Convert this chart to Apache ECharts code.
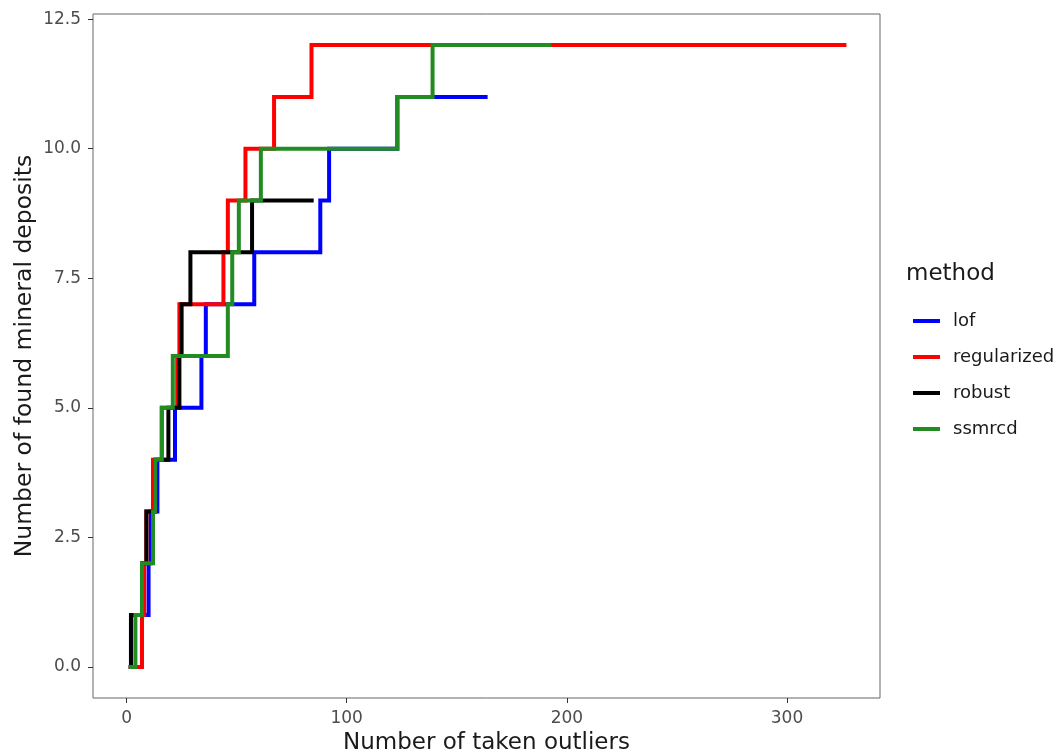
<!DOCTYPE html>
<html>
<head>
<meta charset="utf-8">
<title>Found mineral deposits by method</title>
<script src="https://cdn.jsdelivr.net/npm/echarts@6/dist/echarts.min.js"></script>
<style>
  html, body { margin: 0; padding: 0; background: #fff; }
  #chart { width: 1061px; height: 756px; }
</style>
</head>
<body>
<div id="chart"></div>
<script>
// Method names (legend order)
const methods = ['lof', 'regularized', 'robust', 'ssmrcd'];

// Number of taken outliers at which each successive deposit (1, 2, 3, ...) is found
const lofJumps         = [2, 10, 11, 14, 22, 34, 36, 58, 88, 92, 123];
const regularizedJumps = [7, 8, 9, 12, 16, 23, 24, 44, 46, 54, 67, 84];
const robustJumps      = [2, 7, 9, 13, 19, 24, 25, 29, 57];
const ssmrcdJumps      = [4, 7, 12, 13, 16, 21, 46, 48, 51, 61, 123, 139];

// Last number of taken outliers evaluated for each method
const lofEnd = 164;
const regularizedEnd = 327;
const robustEnd = 85;
const ssmrcdEnd = 193;

// Axis ticks
const xTicks = [0, 100, 200, 300];
const yTicks = [0, 2.5, 5, 7.5, 10, 12.5];

const colors = ['#0000FF', '#FF0000', '#000000', '#228B22'];
const jumpsByMethod = [lofJumps, regularizedJumps, robustJumps, ssmrcdJumps];
const endsByMethod = [lofEnd, regularizedEnd, robustEnd, ssmrcdEnd];

// Cumulative count curve: starts at 0 with the first outlier, steps up by one at each jump
function curve(jumps, end) {
  const pts = [[1, 0]];
  jumps.forEach((x, i) => pts.push([x, i + 1]));
  pts.push([end, jumps.length]);
  return pts;
}

const font = 'DejaVu Sans';
const chart = echarts.init(document.getElementById('chart'), null, { renderer: 'canvas' });

const series = methods.map((m, i) => ({
  name: m,
  type: 'line',
  step: 'end',
  data: curve(jumpsByMethod[i], endsByMethod[i]),
  symbol: 'none',
  color: colors[i],
  lineStyle: { color: colors[i], width: 4, cap: 'butt', join: 'miter' },
  animation: false,
  z: 2 + i
}));

chart.setOption({
  animation: false,
  backgroundColor: '#ffffff',
  grid: {
    left: 93, right: 181, top: 14, bottom: 58,
    outerBoundsMode: 'none',
    containLabel: false,
    show: true, borderColor: '#666666', borderWidth: 1, backgroundColor: 'transparent'
  },
  xAxis: {
    type: 'value',
    min: -15.25, max: 342.25,
    splitLine: { show: false },
    axisLine: { show: false, onZero: false },
    axisTick: { show: true, length: 5, lineStyle: { color: '#333333' }, customValues: xTicks },
    axisLabel: {
      customValues: xTicks, margin: 12,
      color: '#4d4d4d', fontFamily: font, fontSize: 17
    },
    name: 'Number of taken outliers',
    nameLocation: 'middle', nameGap: 34,
    nameTextStyle: { color: '#1a1a1a', fontFamily: font, fontSize: 23 }
  },
  yAxis: {
    type: 'value',
    min: -0.6, max: 12.6,
    splitLine: { show: false },
    axisLine: { show: false, onZero: false },
    axisTick: { show: true, length: 5, lineStyle: { color: '#333333' }, customValues: yTicks },
    axisLabel: {
      customValues: yTicks, margin: 12,
      formatter: v => v.toFixed(1),
      color: '#4d4d4d', fontFamily: font, fontSize: 17
    },
    name: 'Number of found mineral deposits',
    nameLocation: 'middle', nameGap: 56, nameRotate: 90,
    nameMoveOverlap: false,
    nameTextStyle: { color: '#1a1a1a', fontFamily: font, fontSize: 23.5 }
  },
  legend: {
    data: methods,
    orient: 'vertical',
    left: 908, top: 305,
    icon: 'rect',
    itemWidth: 27, itemHeight: 4,
    itemGap: 14,
    textStyle: { color: '#1a1a1a', fontFamily: font, fontSize: 18, lineHeight: 22, padding: [0, 0, 0, 8] },
    selectedMode: false
  },
  graphic: [{
    type: 'text',
    left: 906, top: 263,
    style: { text: 'method', fill: '#1a1a1a', font: '23px "DejaVu Sans"' }
  }],
  series: series
});
</script>
</body>
</html>
